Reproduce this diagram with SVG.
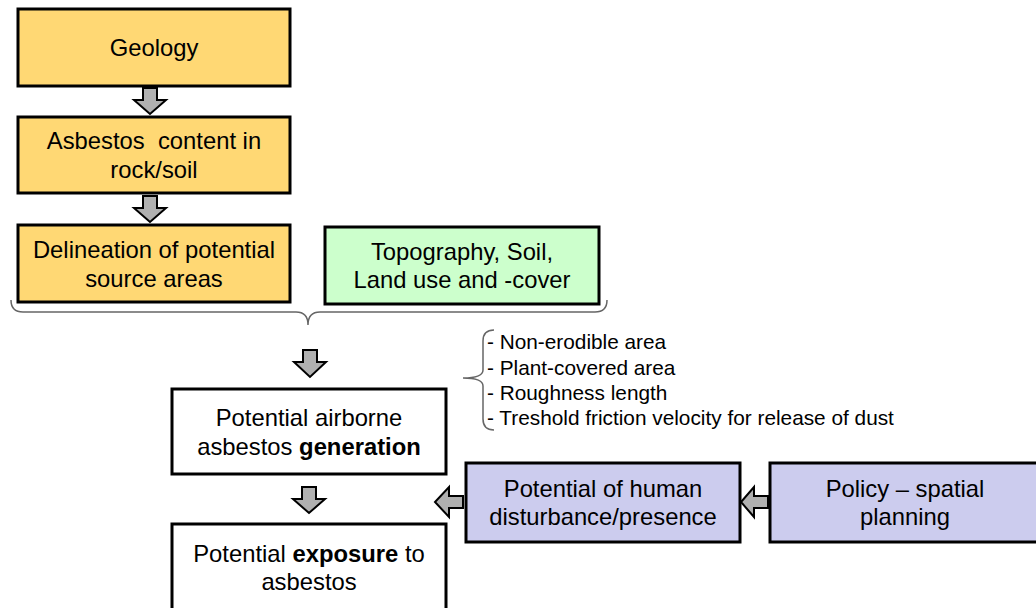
<svg xmlns="http://www.w3.org/2000/svg" width="1036" height="608" viewBox="0 0 1036 608">
<defs>
<style>
.box{stroke:#000;stroke-width:3}
.y{fill:#FFD874}
.g{fill:#CCFFCC}
.p{fill:#CCCCEE}
.w{fill:#FFFFFF}
.t{font-family:"Liberation Sans",Arial,sans-serif;font-size:23.8px;fill:#000;text-anchor:middle;white-space:pre}
.l{font-family:"Liberation Sans",Arial,sans-serif;font-size:20.8px;fill:#000}
.arr{fill:#B0B0B0;stroke:#000;stroke-width:2;stroke-linejoin:miter}
.br{fill:none;stroke:#666;stroke-width:1.5}
</style>
</defs>
<rect width="1036" height="608" fill="#fff"/>
<g id="geology"><rect class="box y" x="18" y="9" width="272" height="77"/><text class="t" x="154" y="56">Geology</text></g>
<g id="asbestos-content"><rect class="box y" x="18" y="117" width="272" height="76"/><text class="t" x="154" y="149" xml:space="preserve">Asbestos  content in</text><text class="t" x="154" y="178">rock/soil</text></g>
<g id="delineation"><rect class="box y" x="18" y="225" width="272" height="77"/><text class="t" x="154" y="258">Delineation of potential</text><text class="t" x="154" y="287">source areas</text></g>
<g id="topography"><rect class="box g" x="325" y="227" width="274" height="77"/><text class="t" x="462" y="260">Topography, Soil,</text><text class="t" x="462" y="288">Land use and -cover</text></g>
<g id="airborne"><rect class="box w" x="172" y="389" width="274" height="85"/><text class="t" x="309" y="426">Potential airborne</text><text class="t" x="309" y="455">asbestos <tspan font-weight="bold">generation</tspan></text></g>
<g id="exposure"><rect class="box w" x="172" y="524" width="274" height="90"/><text class="t" x="309" y="562">Potential <tspan font-weight="bold">exposure</tspan> to</text><text class="t" x="309" y="590">asbestos</text></g>
<g id="human"><rect class="box p" x="466" y="463" width="274" height="79"/><text class="t" x="603" y="497">Potential of human</text><text class="t" x="603" y="525">disturbance/presence</text></g>
<g id="policy"><rect class="box p" x="770" y="463" width="270" height="79"/><text class="t" x="905" y="497">Policy – spatial</text><text class="t" x="905" y="525">planning</text></g>
<g id="factors"><text class="l" x="487" y="349">- Non-erodible area</text><text class="l" x="487" y="375">- Plant-covered area</text><text class="l" x="487" y="400">- Roughness length</text><text class="l" x="487" y="425">- Treshold friction velocity for release of dust</text></g>
<g id="connectors">
<path class="arr" d="M143,88 H157 V100 H166 L150,114 L134,100 H143 Z"/>
<path class="arr" d="M143,196 H157 V208 H166 L150,222 L134,208 H143 Z"/>
<path class="arr" d="M303,350 H317 V362 H326 L310,377 L294,362 H303 Z"/>
<path class="arr" d="M302,487 H316 V499 H325 L309,513 L293,499 H302 Z"/>
<path class="arr" d="M463,496 V508 H449 V517 L435,502 L449,487 V496 Z"/>
<path class="arr" d="M768,496 V508 H754 V517 L741,502 L754,487 V496 Z"/>
<path class="br" d="M11,300 Q11,312 23,312 L296,312 Q308,312 308,325 Q308,312 320,312 L595,312 Q607,312 607,300"/>
<path class="br" d="M494,330 Q483,330 483,341 L483,370 Q483,378 463,378 Q483,378 483,386 L483,419 Q483,430 494,430"/>
</g>
</svg>
